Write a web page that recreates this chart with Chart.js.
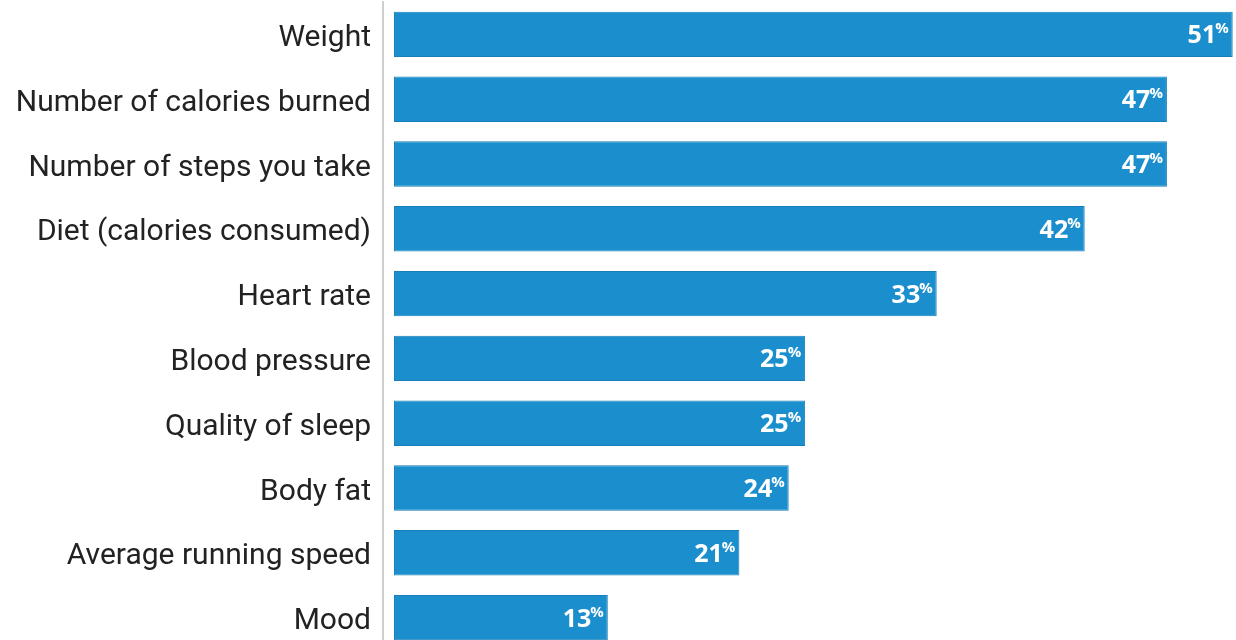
<!DOCTYPE html>
<html>
<head>
<meta charset="utf-8">
<script src="https://cdn.jsdelivr.net/npm/chart.js@4"></script>
<style>
  html, body { margin: 0; padding: 0; background: #fff; overflow: hidden; }
  #wrap { width: 1236px; height: 652px; position: relative; }
</style>
</head>
<body>
<div id="wrap"><canvas id="chart"></canvas></div>
<script>
// data
const categories = ['Weight', 'Number of calories burned', 'Number of steps you take', 'Diet (calories consumed)',
  'Heart rate', 'Blood pressure', 'Quality of sleep', 'Body fat', 'Average running speed', 'Mood'];
const shares = [51, 47, 47, 42, 33, 25, 25, 24, 21, 13];

const barBlue = '#1b8fcd';

// white value labels with a small % sign at the end of each bar
const valueLabels = {
  id: 'valueLabels',
  afterDatasetsDraw(chart) {
    const ctx = chart.ctx;
    const meta = chart.getDatasetMeta(0);
    ctx.save();
    ctx.fillStyle = '#fff';
    meta.data.forEach((bar, i) => {
      ctx.font = 'bold 15px "Open Sans", sans-serif';
      const pctW = ctx.measureText('%').width;
      const right = bar.x - 4;
      ctx.textAlign = 'right';
      ctx.textBaseline = 'alphabetic';
      ctx.fillText('%', right, bar.y - 1);
      ctx.font = 'bold 25px "Open Sans", sans-serif';
      ctx.fillText(String(shares[i]), right - pctW + 1, bar.y + 9);
    });
    ctx.restore();
  }
};

new Chart(document.getElementById('chart').getContext('2d'), {
  type: 'bar',
  data: {
    labels: categories,
    datasets: [{
      data: shares,
      backgroundColor: barBlue,
      borderColor: '#177fb8',
      borderWidth: 1,
      borderSkipped: false,
      categoryPercentage: 1,
      barPercentage: 0.7
    }]
  },
  options: {
    indexAxis: 'y',
    responsive: true,
    maintainAspectRatio: false,
    animation: false,
    layout: { padding: { top: 2, right: 0, bottom: 2, left: 0 } },
    plugins: {
      legend: { display: false },
      tooltip: { enabled: false }
    },
    scales: {
      x: {
        min: -0.67,
        max: 51.2,
        display: false,
        grid: { display: false }
      },
      y: {
        afterFit(scale) {
          scale.width = 383;
          scale.paddingTop = 0;
          scale.paddingBottom = 0;
        },
        grid: { display: false, drawTicks: false },
        border: { display: true, color: '#cfcfcf', width: 2 },
        ticks: {
          padding: 12,
          labelOffset: 4,
          color: '#222',
          font: { family: 'Roboto, sans-serif', size: 30 }
        }
      }
    }
  },
  plugins: [valueLabels]
});
</script>
</body>
</html>
